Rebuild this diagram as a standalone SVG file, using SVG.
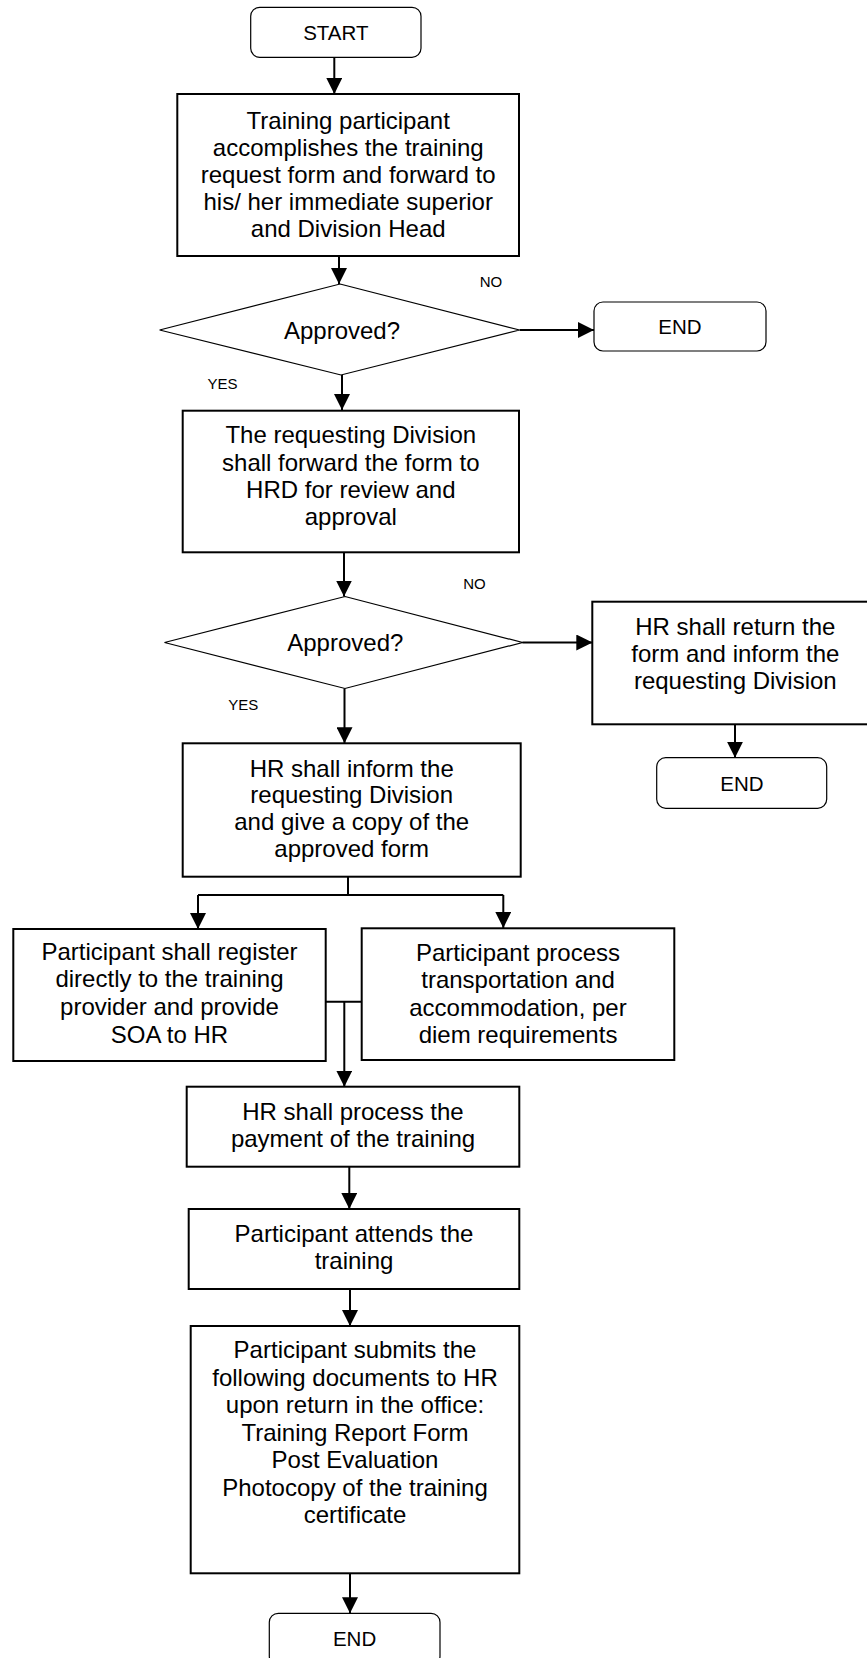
<svg xmlns="http://www.w3.org/2000/svg" width="867" height="1658" viewBox="0 0 867 1658">
<style>
.box{fill:#fff;stroke:#000;stroke-width:2}
.term{fill:#fff;stroke:#000;stroke-width:1.2}
.dia{fill:#fff;stroke:#000;stroke-width:1.2}
.t{font-family:"Liberation Sans",Arial,sans-serif;font-size:24px;fill:#000;text-anchor:middle}
.tt{font-family:"Liberation Sans",Arial,sans-serif;font-size:20.5px;fill:#000;text-anchor:middle}
.lbl{font-family:"Liberation Sans",Arial,sans-serif;font-size:15px;fill:#000;text-anchor:middle}
.c{fill:none;stroke:#000;stroke-width:2}
.a{marker-end:url(#ah)}
</style>
<defs>
<marker id="ah" markerUnits="userSpaceOnUse" markerWidth="16" markerHeight="16" viewBox="0 0 16 16" refX="16" refY="8" orient="auto">
<path d="M0,0 L16,8 L0,16 z" fill="#000"/>
</marker>
</defs>
<rect width="867" height="1658" fill="#fff"/>
<g id="connectors">
<path class="c a" d="M334.3,57.3 V94"/>
<path class="c a" d="M339,256 V284"/>
<path class="c a" d="M519.6,330 H594"/>
<path class="c a" d="M342,375 V410"/>
<path class="c a" d="M344,552 V596.5"/>
<path class="c a" d="M522.5,642.5 H592.3"/>
<path class="c a" d="M735,724.3 V757.7"/>
<path class="c a" d="M344.5,688.5 V743.3"/>
<path class="c" d="M348,877 V895 M198,895 H503.3"/>
<path class="c a" d="M198,895 V929"/>
<path class="c a" d="M503.3,895 V928"/>
<path class="c" d="M325.7,1001.7 H361.7"/>
<path class="c a" d="M344.3,1001.7 V1086.7"/>
<path class="c a" d="M349.3,1166.7 V1209"/>
<path class="c a" d="M350,1289 V1326"/>
<path class="c a" d="M350,1573.3 V1613.3"/>
</g>
<g id="start">
<rect class="term" x="250.7" y="7.3" width="170.3" height="50" rx="9"/>
<text class="tt" x="335.8" y="40">START</text>
</g>
<g id="box1">
<rect class="box" x="177.3" y="94" width="341.7" height="162"/>
<text class="t" x="348.2" y="128.5">Training participant</text>
<text class="t" x="348.2" y="155.5">accomplishes the training</text>
<text class="t" x="348.2" y="182.5">request form and forward to</text>
<text class="t" x="348.2" y="209.5">his/ her immediate superior</text>
<text class="t" x="348.2" y="236.5">and Division Head</text>
</g>
<g id="dec1">
<polygon class="dia" points="340,284 519.6,330 341,375 159.6,330"/>
<text class="t" x="342" y="338.5">Approved?</text>
</g>
<g id="lbl-no1"><text class="lbl" x="491" y="287">NO</text></g>
<g id="lbl-yes1"><text class="lbl" x="222.5" y="389">YES</text></g>
<g id="end1">
<rect class="term" x="594" y="302" width="172" height="49" rx="9"/>
<text class="tt" x="680" y="334">END</text>
</g>
<g id="box2">
<rect class="box" x="182.7" y="410.7" width="336.3" height="141.6"/>
<text class="t" x="350.8" y="443.3">The requesting Division</text>
<text class="t" x="350.8" y="470.7">shall forward the form to</text>
<text class="t" x="350.8" y="498">HRD for review and</text>
<text class="t" x="350.8" y="525">approval</text>
</g>
<g id="dec2">
<polygon class="dia" points="345,596.5 522.5,642.5 345,688.5 164.5,642.5"/>
<text class="t" x="345.3" y="651">Approved?</text>
</g>
<g id="lbl-no2"><text class="lbl" x="474.5" y="589">NO</text></g>
<g id="lbl-yes2"><text class="lbl" x="243.3" y="710">YES</text></g>
<g id="box3">
<rect class="box" x="592.3" y="601.7" width="286" height="122.6"/>
<text class="t" x="735.3" y="635">HR shall return the</text>
<text class="t" x="735.3" y="662.3">form and inform the</text>
<text class="t" x="735.3" y="689.3">requesting Division</text>
</g>
<g id="end2">
<rect class="term" x="656.7" y="757.7" width="170" height="50.6" rx="9"/>
<text class="tt" x="742" y="790.5">END</text>
</g>
<g id="box4">
<rect class="box" x="182.7" y="743.3" width="338" height="133.4"/>
<text class="t" x="351.7" y="776.7">HR shall inform the</text>
<text class="t" x="351.7" y="803.3">requesting Division</text>
<text class="t" x="351.7" y="830">and give a copy of the</text>
<text class="t" x="351.7" y="856.7">approved form</text>
</g>
<g id="box5">
<rect class="box" x="13.3" y="929" width="312.4" height="132"/>
<text class="t" x="169.5" y="960">Participant shall register</text>
<text class="t" x="169.5" y="987.3">directly to the training</text>
<text class="t" x="169.5" y="1015">provider and provide</text>
<text class="t" x="169.5" y="1043">SOA to HR</text>
</g>
<g id="box6">
<rect class="box" x="361.7" y="928.3" width="312.6" height="131.7"/>
<text class="t" x="518" y="960.7">Participant process</text>
<text class="t" x="518" y="988.3">transportation and</text>
<text class="t" x="518" y="1015.7">accommodation, per</text>
<text class="t" x="518" y="1042.7">diem requirements</text>
</g>
<g id="box7">
<rect class="box" x="186.7" y="1086.7" width="332.6" height="80"/>
<text class="t" x="353" y="1120">HR shall process the</text>
<text class="t" x="353" y="1147.3">payment of the training</text>
</g>
<g id="box8">
<rect class="box" x="188.7" y="1209" width="330.6" height="80"/>
<text class="t" x="354" y="1241.7">Participant attends the</text>
<text class="t" x="354" y="1269">training</text>
</g>
<g id="box9">
<rect class="box" x="190.7" y="1326" width="328.6" height="247.3"/>
<text class="t" x="355" y="1358.3">Participant submits the</text>
<text class="t" x="355" y="1385.7">following documents to HR</text>
<text class="t" x="355" y="1413.3">upon return in the office:</text>
<text class="t" x="355" y="1440.7">Training Report Form</text>
<text class="t" x="355" y="1468.3">Post Evaluation</text>
<text class="t" x="355" y="1496">Photocopy of the training</text>
<text class="t" x="355" y="1522.7">certificate</text>
</g>
<g id="end3">
<rect class="term" x="269.3" y="1613.3" width="170.7" height="52" rx="9"/>
<text class="tt" x="354.6" y="1645.5">END</text>
</g>
</svg>
